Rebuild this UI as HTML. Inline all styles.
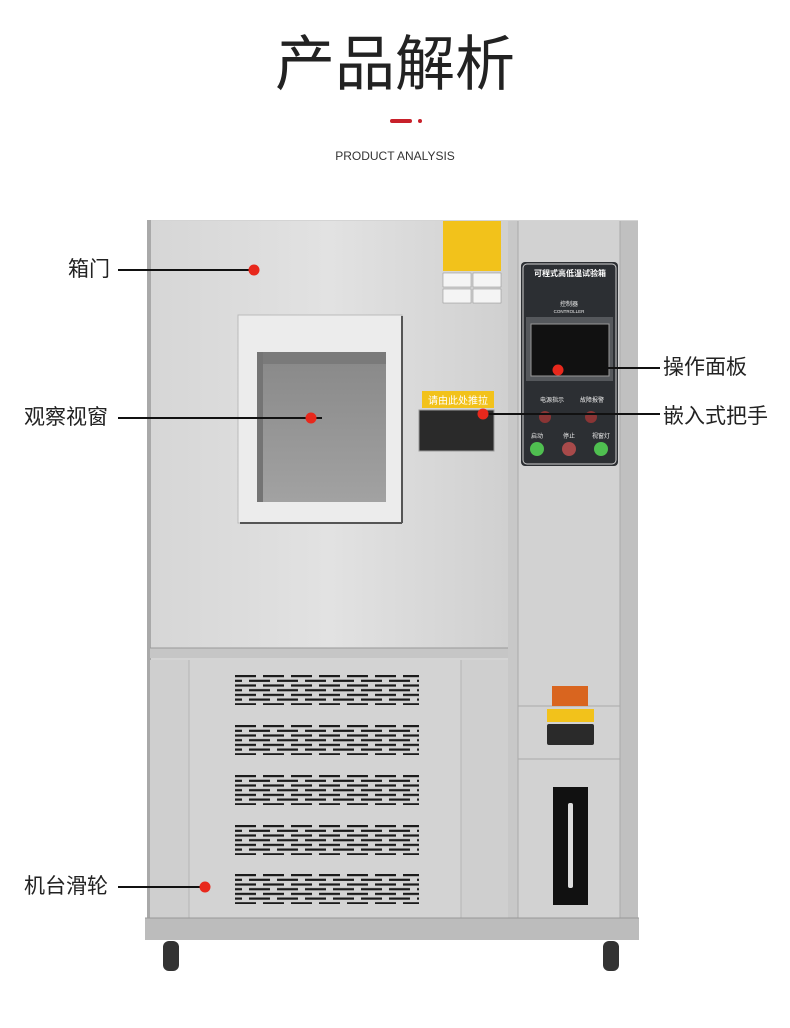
<!DOCTYPE html>
<html><head><meta charset="utf-8"><style>
body{margin:0;background:#fff;}
.w{position:relative;width:790px;height:1028px;overflow:hidden;font-family:"Liberation Sans","Noto Sans CJK SC",sans-serif;}
.lb{position:absolute;font-size:21px;color:#222;line-height:1;}
</style></head><body><div class="w">
<div style="position:absolute;left:0;width:790px;top:30px;text-align:center;font-size:60px;color:#222;line-height:70px;">产品解析</div>
<div style="position:absolute;left:390px;top:119px;width:22px;height:4px;background:#c8202a;border-radius:2px"></div>
<div style="position:absolute;left:418px;top:119px;width:4px;height:4px;background:#c8202a;border-radius:2px"></div>
<div style="position:absolute;left:0;width:790px;top:149px;text-align:center;font-size:12px;color:#333;">PRODUCT ANALYSIS</div>
<svg style="position:absolute;left:0;top:0" width="790" height="1028">
<defs>
<linearGradient id="bd" x1="0" x2="1"><stop offset="0" stop-color="#d6d6d6"/><stop offset="0.5" stop-color="#e2e2e2"/><stop offset="1" stop-color="#d0d0d0"/></linearGradient>
<linearGradient id="win" x1="0" y1="0" x2="0" y2="1"><stop offset="0" stop-color="#888"/><stop offset="1" stop-color="#a2a2a2"/></linearGradient>
<pattern id="vt" patternUnits="userSpaceOnUse" x="235" y="0" width="28" height="9.4"><rect x="0" y="0" width="21" height="2.2" fill="#1a1a1a"/><rect x="14" y="4.7" width="21" height="2.2" fill="#1a1a1a"/><rect x="-14" y="4.7" width="21" height="2.2" fill="#1a1a1a"/></pattern>
</defs>
<rect x="147" y="220" width="491" height="700" fill="#d4d4d4"/>
<rect x="150" y="221" width="358" height="427" fill="url(#bd)"/>
<rect x="147" y="220" width="4" height="700" fill="#a9a9a9"/>
<rect x="508" y="221" width="10" height="697" fill="#c8c8c8"/>
<rect x="518" y="221" width="102" height="697" fill="#d2d2d2"/>
<rect x="620" y="221" width="18" height="697" fill="#c0c0c0"/>
<line x1="518" y1="221" x2="518" y2="918" stroke="#aaa"/>
<line x1="620" y1="221" x2="620" y2="918" stroke="#aaa"/>
<rect x="150" y="648" width="358" height="10" fill="#c6c6c6"/>
<line x1="150" y1="648" x2="508" y2="648" stroke="#999"/>
<rect x="150" y="660" width="358" height="258" fill="#cfcfcf"/>
<rect x="189" y="660" width="272" height="258" fill="#d3d3d3"/>
<line x1="189" y1="660" x2="189" y2="918" stroke="#b5b5b5"/>
<line x1="461" y1="660" x2="461" y2="918" stroke="#b5b5b5"/>
<g transform="translate(0,675)"><rect x="235" y="0" width="184" height="30" fill="url(#vt)"/></g>
<g transform="translate(0,725)"><rect x="235" y="0" width="184" height="30" fill="url(#vt)"/></g>
<g transform="translate(0,775)"><rect x="235" y="0" width="184" height="30" fill="url(#vt)"/></g>
<g transform="translate(0,825)"><rect x="235" y="0" width="184" height="30" fill="url(#vt)"/></g>
<g transform="translate(0,874)"><rect x="235" y="0" width="184" height="30" fill="url(#vt)"/></g>
<!-- window -->
<rect x="238" y="315" width="164" height="208" fill="#ececec" stroke="#bbb"/>
<line x1="402" y1="316" x2="402" y2="523" stroke="#555" stroke-width="2"/>
<line x1="240" y1="523" x2="402" y2="523" stroke="#555" stroke-width="2"/>
<rect x="257" y="352" width="129" height="150" fill="url(#win)"/>
<rect x="257" y="352" width="129" height="12" fill="#7a7a7a"/>
<rect x="257" y="352" width="6" height="150" fill="#747474"/>
<!-- labels sticker -->
<rect x="443" y="221" width="58" height="50" fill="#f2c21b"/>
<rect x="443" y="273" width="28" height="14" fill="#f4f4f4" stroke="#888" stroke-width="0.5"/>
<rect x="473" y="273" width="28" height="14" fill="#f4f4f4" stroke="#888" stroke-width="0.5"/>
<rect x="443" y="289" width="28" height="14" fill="#f4f4f4" stroke="#888" stroke-width="0.5"/>
<rect x="473" y="289" width="28" height="14" fill="#f4f4f4" stroke="#888" stroke-width="0.5"/>
<!-- handle -->
<rect x="422" y="391" width="72" height="17" fill="#f2c21b"/>
<text x="458" y="404" font-size="10" fill="#fff" text-anchor="middle" font-family="Liberation Sans,Noto Sans CJK SC,sans-serif">请由此处推拉</text>
<rect x="419" y="410" width="75" height="41" fill="#2a2a2a" stroke="#999"/>
<!-- controller -->
<rect x="521" y="262" width="97" height="204" rx="4" fill="#2c2f33"/>
<rect x="523" y="264" width="93" height="200" rx="4" fill="none" stroke="#cfcfcf" stroke-width="1"/>
<text x="570" y="276" font-size="8" fill="#fff" text-anchor="middle" font-weight="bold" font-family="Liberation Sans,Noto Sans CJK SC,sans-serif">可程式高低温试验箱</text>
<text x="569" y="306" font-size="6" fill="#eee" text-anchor="middle" font-family="Liberation Sans,Noto Sans CJK SC,sans-serif">控制器</text>
<text x="569" y="313" font-size="4.5" fill="#eee" text-anchor="middle">CONTROLLER</text>
<rect x="526" y="317" width="87" height="64" fill="#55585c"/>
<rect x="531" y="324" width="78" height="52" fill="#111" stroke="#999"/>
<text x="540" y="402" font-size="6" fill="#eee" font-family="Liberation Sans,Noto Sans CJK SC,sans-serif">电源指示</text>
<text x="580" y="402" font-size="6" fill="#eee" font-family="Liberation Sans,Noto Sans CJK SC,sans-serif">故障报警</text>
<circle cx="545" cy="417" r="6" fill="#8a3535"/><circle cx="591" cy="417" r="6" fill="#8a3535"/>
<text x="531" y="438" font-size="6" fill="#eee" font-family="Liberation Sans,Noto Sans CJK SC,sans-serif">启动</text>
<text x="563" y="438" font-size="6" fill="#eee" font-family="Liberation Sans,Noto Sans CJK SC,sans-serif">停止</text>
<text x="592" y="438" font-size="6" fill="#eee" font-family="Liberation Sans,Noto Sans CJK SC,sans-serif">视窗灯</text>
<circle cx="537" cy="449" r="7" fill="#4fbf50"/><circle cx="569" cy="449" r="7" fill="#a84a4a"/><circle cx="601" cy="449" r="7" fill="#4fbf50"/>
<!-- right lower -->
<line x1="518" y1="706" x2="620" y2="706" stroke="#aaa"/>
<line x1="518" y1="759" x2="620" y2="759" stroke="#aaa"/>
<rect x="552" y="686" width="36" height="20" fill="#d9651f"/>
<rect x="547" y="709" width="47" height="13" fill="#f2c21b"/>
<rect x="547" y="724" width="47" height="21" rx="2" fill="#2a2a2a"/>
<rect x="553" y="787" width="35" height="118" fill="#111"/>
<rect x="568" y="803" width="5" height="85" rx="2" fill="#ddd"/>
<!-- base -->
<rect x="145" y="918" width="494" height="22" fill="#bcbcbc"/>
<line x1="145" y1="918" x2="639" y2="918" stroke="#999"/>
<rect x="163" y="941" width="16" height="30" rx="6" fill="#333"/>
<rect x="603" y="941" width="16" height="30" rx="6" fill="#333"/>
<!-- callouts -->
<g stroke="#111" stroke-width="2">
<line x1="118" y1="270" x2="254" y2="270"/>
<line x1="118" y1="418" x2="322" y2="418"/>
<line x1="558" y1="368" x2="660" y2="368"/>
<line x1="483" y1="414" x2="660" y2="414"/>
<line x1="118" y1="887" x2="205" y2="887"/>
</g>
<g fill="#e8281c">
<circle cx="254" cy="270" r="5.5"/><circle cx="311" cy="418" r="5.5"/><circle cx="558" cy="370" r="5.5"/><circle cx="483" cy="414" r="5.5"/><circle cx="205" cy="887" r="5.5"/>
</g>
</svg>
<div class="lb" style="left:68px;top:259px">箱门</div>
<div class="lb" style="left:24px;top:407px">观察视窗</div>
<div class="lb" style="left:663px;top:357px">操作面板</div>
<div class="lb" style="left:663px;top:406px">嵌入式把手</div>
<div class="lb" style="left:24px;top:876px">机台滑轮</div>
</div></body></html>
